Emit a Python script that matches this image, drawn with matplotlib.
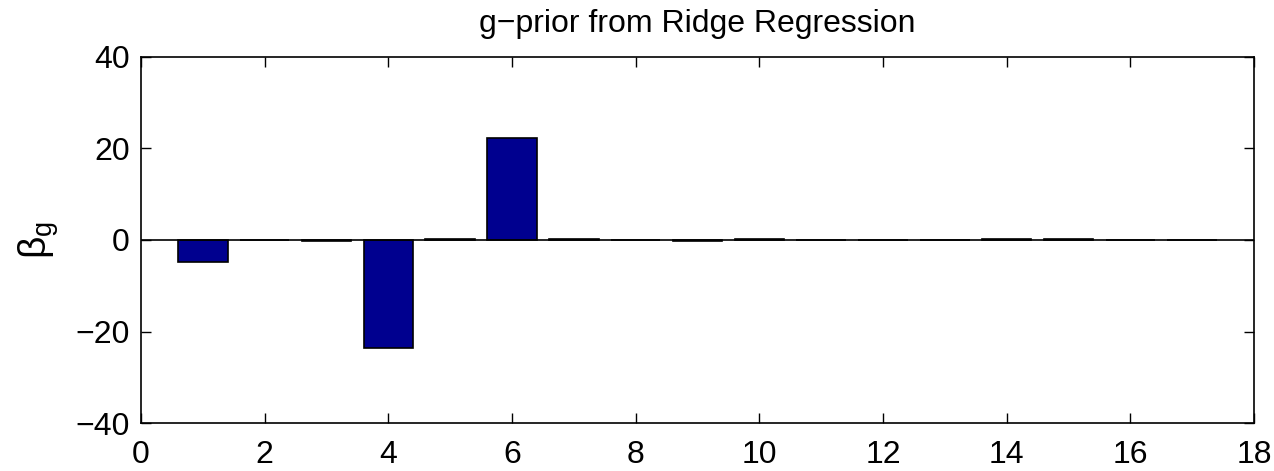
import numpy as np
import matplotlib
matplotlib.use("Agg")
import matplotlib.pyplot as plt

plt.rcParams['font.family'] = ['Liberation Sans', 'DejaVu Sans']

# 回归系数 (g-prior, ridge)
idx = np.arange(1, 18)
beta_g = [-4.9, 0.1, -0.2, -23.7, 0.3, 22.3, 0.2, -0.1, -0.2,
          0.2, -0.1, 0.0, -0.1, 0.3, 0.2, -0.1, 0.0]

fig = plt.figure(figsize=(12.74, 4.71), dpi=100)
ax = fig.add_axes([0.1107, 0.1019, 0.8736, 0.7771])

ax.bar(idx, beta_g, width=0.8, color='#00008f', edgecolor='k', linewidth=1.2)
ax.axhline(0, color='k', linewidth=1.2)

ax.set_xlim(0, 18)
ax.set_ylim(-40, 40)
ax.set_xticks(np.arange(0, 19, 2))
ax.set_yticks([-40, -20, 0, 20, 40])
ax.set_yticklabels(['\u221240', '\u221220', '0', '20', '40'])
ax.tick_params(direction='in', top=True, right=True, labelsize=23, length=7, width=1)
ax.tick_params(axis='y', pad=8)
ax.tick_params(axis='x', pad=12)
for s in ax.spines.values():
    s.set_linewidth(1.2)

ax.set_title('g\u2212prior from Ridge Regression', fontsize=23, pad=18)
ax.set_ylabel(r'$\mathregular{\beta_g}$', fontsize=28)
ax.yaxis.set_label_coords(-0.072, 0.5)

fig.savefig('out.png', dpi=100)
